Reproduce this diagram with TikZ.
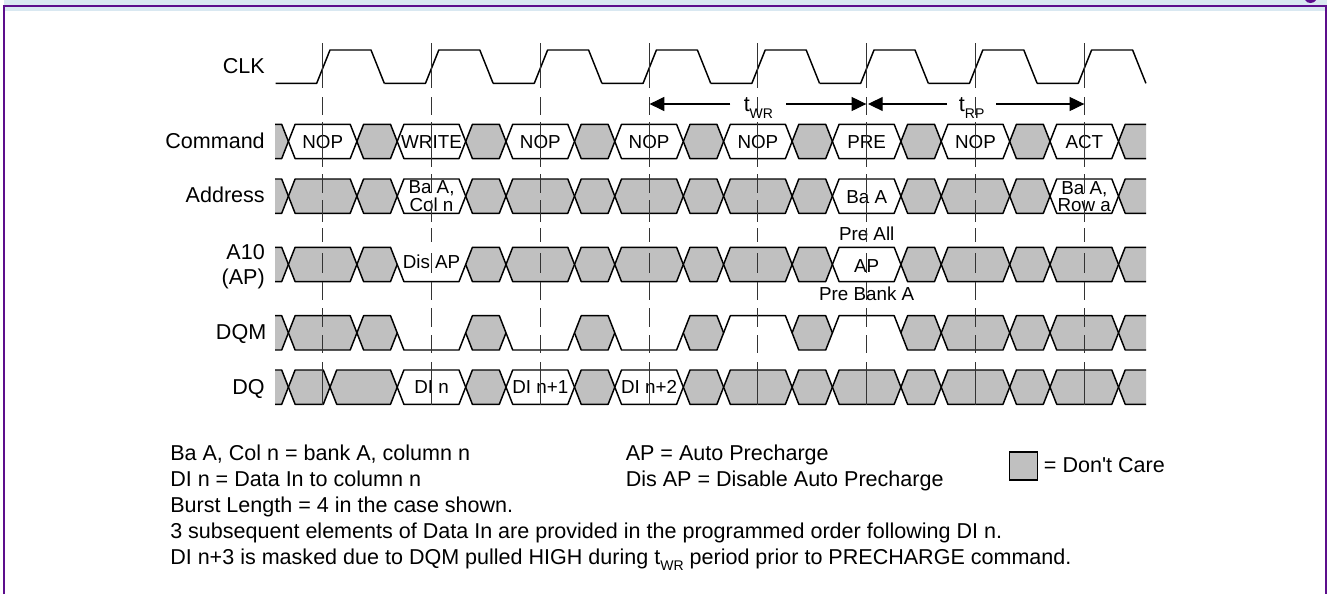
\documentclass[tikz,border=0pt]{standalone}
\usepackage{fontspec}
\setmainfont{Liberation Sans}
\usetikzlibrary{arrows.meta}
\definecolor{framepurple}{RGB}{92,14,140}
\definecolor{bandblue}{RGB}{217,232,241}
\definecolor{dontcare}{RGB}{192,192,192}
\newcommand{\buscell}[4]{%
  \draw[#1] (#2,#4+17.15) -- (#2+6.7,#4) -- (#3-6.7,#4) -- (#3,#4+17.15)
    -- (#3-6.7,#4+34.3) -- (#2+6.7,#4+34.3) -- cycle;}
\newcommand{\widecell}[3]{\buscell{#1}{288.4+108.8*#2}{356.9+108.8*#2}{#3}}
\newcommand{\gapcell}[2]{\buscell{graycell}{356.9+108.8*#1}{397.2+108.8*#1}{#2}}
\newcommand{\levelcell}[3]{%
  \draw[sig] (288.4+108.8*#1,#2+17.15) -- (295.1+108.8*#1,#2+#3)
    -- (350.2+108.8*#1,#2+#3) -- (356.9+108.8*#1,#2+17.15);}
\newcommand{\subtxt}[1]{\raisebox{-5pt}{\fontsize{10.5}{10.5}\selectfont #1}}
\tikzset{
  sig/.style={black, line width=1.1pt, line join=round},
  graycell/.style={sig, fill=dontcare},
  whitecell/.style={sig, fill=white},
  clkline/.style={black!80, line width=0.65pt},
  timearrow/.style={-{Triangle[length=11pt,width=10.5pt]}, black, line width=0.8pt},
  rowlabel/.style={anchor=base east, inner sep=0pt, font=\fontsize{16.15}{19}\selectfont},
  celltext/.style={anchor=base, inner sep=0pt, font=\fontsize{14.1}{11}\selectfont, align=center},
  legendtext/.style={anchor=base west, inner sep=0pt, font=\fontsize{16.15}{19}\selectfont}
}
\begin{document}
\begin{tikzpicture}[x=0.75pt, y=-0.75pt]
  \useasboundingbox (0,0) rectangle (1327,594);

  % Page frame
  \fill[bandblue] (3.8,0) rectangle (1327,10.8);
  \fill[framepurple] (1305,0) .. controls (1307,4) and (1314,4) .. (1316,0) -- cycle;
  \draw[framepurple, line width=1.6pt] (3.8,594) -- (3.8,6.2) -- (1326.4,6.2) -- (1326.4,594);

  % Clock
  \foreach \x in {322.7,431.5,540.3,649.1,757.9,866.7,975.5,1084.3} {
    \draw[sig] (\x-47.2,83.3) -- (\x-6,83.3) -- (\x+7.3,50) -- (\x+48.3,50) -- (\x+61.6,83.3);
  }

  % Bus ends and the don't care gaps
  \foreach \y in {124.3,179,247.3,315.7,370} {
    \fill[dontcare] (275,\y) -- (281.7,\y) -- (288.4,\y+17.15) -- (281.7,\y+34.3) -- (275,\y+34.3) -- cycle;
    \draw[sig] (275,\y) -- (281.7,\y) -- (288.4,\y+17.15) -- (281.7,\y+34.3) -- (275,\y+34.3);
    \fill[dontcare] (1146,\y) -- (1125.2,\y) -- (1118.5,\y+17.15) -- (1125.2,\y+34.3) -- (1146,\y+34.3) -- cycle;
    \draw[sig] (1146,\y) -- (1125.2,\y) -- (1118.5,\y+17.15) -- (1125.2,\y+34.3) -- (1146,\y+34.3);
  }
  \foreach \k in {0,...,6} {
    \gapcell{\k}{124.3}
    \gapcell{\k}{179}
    \gapcell{\k}{247.3}
    \gapcell{\k}{315.7}
  }
  \foreach \k in {1,...,6} {
    \gapcell{\k}{370}
  }

  % Command
  \foreach \k/\l in {0/NOP,1/WRITE,2/NOP,3/NOP,4/NOP,5/PRE,6/NOP,7/ACT} {
    \widecell{whitecell}{\k}{124.3}
    \node[celltext] (cmd\k) at (322.7+108.8*\k,148.3) {\l};
  }

  % Address
  \foreach \k in {0,2,3,4,6} {
    \widecell{graycell}{\k}{179}
  }
  \foreach \k in {1,5,7} {
    \widecell{whitecell}{\k}{179}
  }
  \node[celltext] (addra) at (431.5,211) {Ba A,\\Col n};
  \node[celltext] (addrb) at (866.7,203.3) {Ba A};
  \node[celltext] (addrc) at (1084.3,211) {Ba A,\\Row a};

  % A10
  \foreach \k in {0,2,3,4,6,7} {
    \widecell{graycell}{\k}{247.3}
  }
  \levelcell{1}{247.3}{34.3}
  \widecell{whitecell}{5}{247.3}
  \node[celltext] (disap) at (431.5,268.3) {Dis AP};
  \node[celltext] (ap) at (866.7,272.3) {AP};
  \node[celltext] (preall) at (866.7,240) {Pre All};
  \node[celltext] (prebank) at (866.7,300.7) {Pre Bank A};

  % DQM
  \foreach \k in {0,6,7} {
    \widecell{graycell}{\k}{315.7}
  }
  \foreach \k/\l in {1/34.3,2/34.3,3/34.3,4/0,5/0} {
    \levelcell{\k}{315.7}{\l}
  }

  % DQ
  \buscell{graycell}{288.4}{330}{370}
  \buscell{graycell}{330}{397.2}{370}
  \foreach \k/\l in {1/DI n,2/DI n+1,3/DI n+2} {
    \widecell{whitecell}{\k}{370}
    \node[celltext] (dq\k) at (322.7+108.8*\k,393.3) {\l};
  }
  \foreach \k in {4,...,7} {
    \widecell{graycell}{\k}{370}
  }

  % Clock edge markers
  \foreach \x in {322.7,431.5,540.3,649.1,757.9,866.7,975.5,1084.3} {
    \foreach \ya/\yb in {43/88,97/115,122/167,174/193,200/222,228/242,253/273,282/300,308/327,335/353,362/405} {
      \draw[clkline] (\x,\ya) -- (\x,\yb);
    }
  }

  % Row names
  \node[rowlabel] (clk) at (265,73.3) {CLK};
  \node[rowlabel] (command) at (265,148.3) {Command};
  \node[rowlabel] (address) at (265,202.7) {Address};
  \node[rowlabel] (atena) at (265,259) {A10};
  \node[rowlabel] (atenb) at (265,284) {(AP)};
  \node[rowlabel] (dqm) at (266.5,339) {DQM};
  \node[rowlabel] (dq) at (265,394) {DQ};

  % Timing arrows
  \coordinate (wrleft) at (649.6,104);
  \coordinate (wrright) at (866.3,104);
  \coordinate (rpleft) at (868,104);
  \coordinate (rpright) at (1084.3,104);
  \node[anchor=base, inner sep=0pt, minimum width=41.5pt, font=\fontsize{16.15}{19}\selectfont] (twr) at (758.4,111.7) {t\subtxt{WR}};
  \node[anchor=base, inner sep=0pt, minimum width=36.5pt, font=\fontsize{16.15}{19}\selectfont] (trp) at (971.7,111.7) {t\subtxt{RP}};
  \draw[timearrow] (twr.west |- wrleft) -- (wrleft);
  \draw[timearrow] (twr.east |- wrright) -- (wrright);
  \draw[timearrow] (trp.west |- rpleft) -- (rpleft);
  \draw[timearrow] (trp.east |- rpright) -- (rpright);

  % Legend
  \node[legendtext] (lega) at (170,460.7) {Ba A, Col n = bank A, column n};
  \node[legendtext] (legb) at (170,486.7) {DI n = Data In to column n};
  \node[legendtext] (legc) at (170,512.7) {Burst Length = 4 in the case shown.};
  \node[legendtext] (legd) at (170,538.7) {3 subsequent elements of Data In are provided in the programmed order following DI n.};
  \node[legendtext] (lege) at (170,564.3) {DI n+3 is masked due to DQM pulled HIGH during t\subtxt{WR} period prior to PRECHARGE command.};
  \node[legendtext] (legf) at (625.5,460.7) {AP = Auto Precharge};
  \node[legendtext] (legg) at (625.5,486.7) {Dis AP = Disable Auto Precharge};
  \draw[black, line width=0.9pt, fill=dontcare] (1009.6,452) rectangle (1037.6,480);
  \node[legendtext] (legh) at (1043.7,472.7) {= Don\textquotesingle t Care};
\end{tikzpicture}
\end{document}
